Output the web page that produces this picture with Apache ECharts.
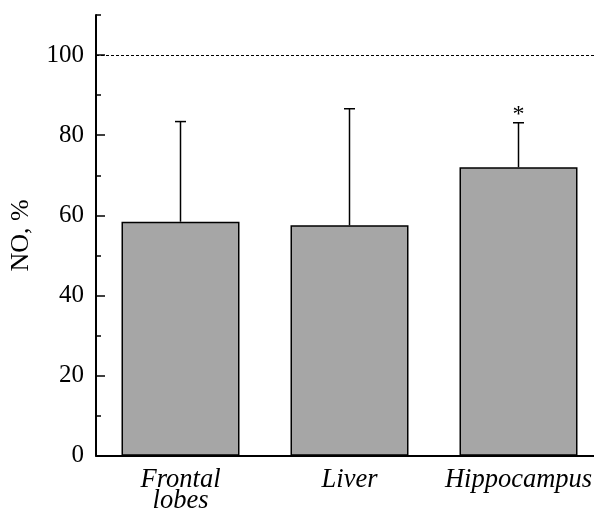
<!DOCTYPE html>
<html>
<head>
<meta charset="utf-8">
<script src="https://cdn.jsdelivr.net/npm/echarts@6/dist/echarts.min.js"></script>
<style>
html,body{margin:0;padding:0;background:#fff;}
#chart{width:594px;height:508px;}
</style>
</head>
<body>
<div id="chart"></div>
<script>
const categories = ['Frontal\nlobes', 'Liver', 'Hippocampus'];
const means = [58.4, 57.5, 72.0];
const upperErrors = [83.4, 86.6, 83.1];
const significance = ['', '', '*'];
const majorTicks = [0, 20, 40, 60, 80, 100];
const minorTicks = [10, 30, 50, 70, 90, 110];
const referenceLevel = 100;

const serif = 'Liberation Serif';
const chart = echarts.init(document.getElementById('chart'), null, {renderer: 'canvas'});

const errData = categories.map((c, i) => [i, means[i], upperErrors[i], significance[i]]);

chart.setOption({
  animation: false,
  grid: {left: 96, width: 507, top: 15, bottom: 52.3, containLabel: false, outerBoundsMode: 'none'},
  xAxis: {
    type: 'category',
    data: categories,
    axisLine: {show: true, onZero: false, lineStyle: {color: '#000', width: 2}},
    axisTick: {show: false},
    axisLabel: {
      interval: 0, margin: 14, color: '#000', fontFamily: serif,
      fontStyle: 'italic', fontSize: 26.5, lineHeight: 21
    },
    splitLine: {show: false}
  },
  yAxis: [
    {
      type: 'value', min: 0, max: 110, position: 'left',
      name: 'NO, %', nameLocation: 'middle', nameRotate: 90, nameGap: 62,
      nameTextStyle: {color: '#000', fontFamily: serif, fontSize: 26},
      axisLine: {show: true, lineStyle: {color: '#000', width: 2}},
      axisTick: {show: true, inside: true, length: 9, lineStyle: {color: '#000', width: 1.5}, customValues: majorTicks},
      axisLabel: {color: '#000', fontFamily: serif, fontSize: 25, margin: 12, customValues: majorTicks},
      splitLine: {show: false}
    },
    {
      type: 'value', min: 0, max: 110, position: 'left',
      axisLine: {show: false},
      axisTick: {show: true, inside: true, length: 5, lineStyle: {color: '#000', width: 1.5}, customValues: minorTicks},
      axisLabel: {show: false},
      splitLine: {show: false}
    }
  ],
  series: [
    {
      type: 'bar',
      data: means,
      barWidth: 118,
      itemStyle: {color: '#a6a6a6', borderColor: '#000', borderWidth: 1.5},
      markLine: {
        silent: true, symbol: 'none', label: {show: false},
        lineStyle: {color: '#000', width: 1, type: [3, 2]},
        data: [{yAxis: referenceLevel}]
      },
      z: 2
    },
    {
      type: 'custom',
      data: errData,
      z: 3,
      renderItem: function (params, api) {
        const x = api.value(0);
        const base = api.coord([x, api.value(1)]);
        const top = api.coord([x, api.value(2)]);
        const mark = significance[params.dataIndex];
        const cap = 5.5;
        const children = [
          {type: 'line', shape: {x1: base[0], y1: base[1], x2: top[0], y2: top[1]}, style: {stroke: '#000', lineWidth: 1.5}},
          {type: 'line', shape: {x1: top[0] - cap, y1: top[1], x2: top[0] + cap, y2: top[1]}, style: {stroke: '#000', lineWidth: 1.5}}
        ];
        if (mark) {
          children.push({type: 'text', style: {text: mark, x: top[0], y: top[1] - 8, align: 'center', verticalAlign: 'middle', fontSize: 24, fontFamily: serif, fill: '#000'}});
        }
        return {type: 'group', children: children};
      }
    }
  ]
});
</script>
</body>
</html>
